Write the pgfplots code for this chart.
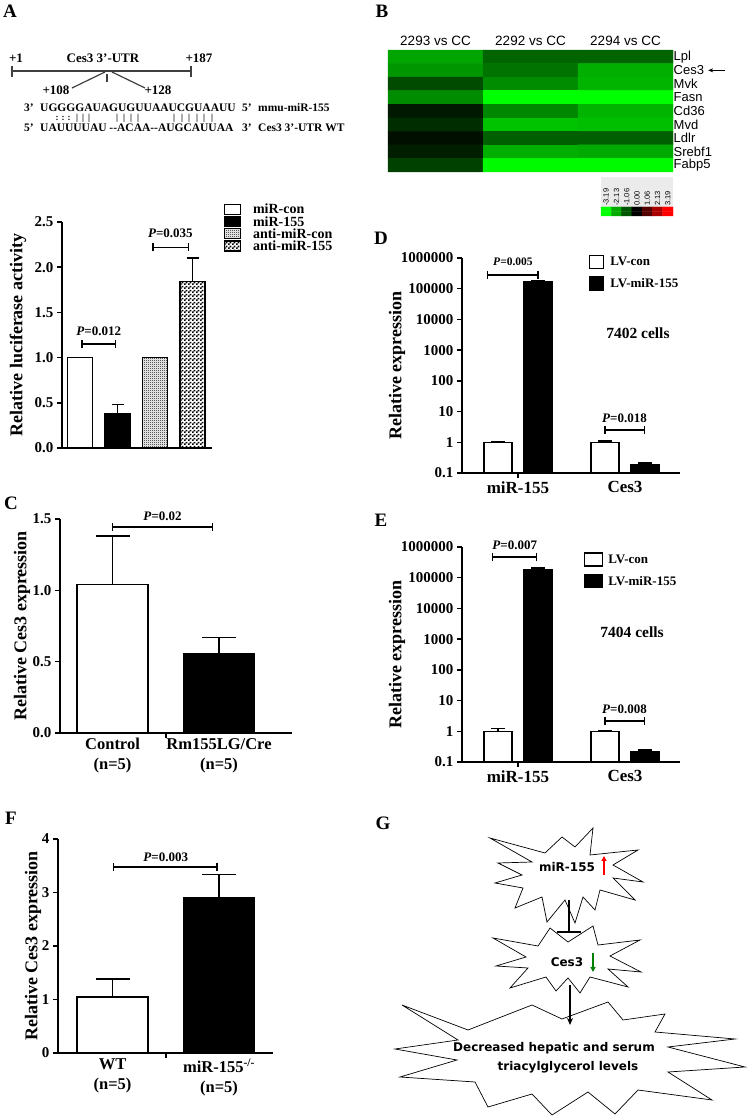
\documentclass[border=0pt]{standalone}
\usepackage{fontspec}
\setmainfont{Liberation Serif}
\newfontfamily\arialf{Liberation Sans}
\newfontfamily\verdf{DejaVu Sans}
\usepackage{pgfplots}
\pgfplotsset{compat=1.18}
\usetikzlibrary{arrows.meta,patterns}
\newcommand{\fs}[1]{\fontsize{#1}{#1}\selectfont}
\pgfdeclarepatternformonly{finecheck}{\pgfpointorigin}{\pgfpoint{2pt}{2pt}}{\pgfpoint{2pt}{2pt}}{%
  \pgfpathrectangle{\pgfpointorigin}{\pgfpoint{1pt}{1pt}}%
  \pgfpathrectangle{\pgfpoint{1pt}{1pt}}{\pgfpoint{1pt}{1pt}}%
  \pgfusepath{fill}}
\pgfdeclarepatternformonly{coarsecheck}{\pgfpointorigin}{\pgfpoint{4pt}{4pt}}{\pgfpoint{4pt}{4pt}}{%
  \pgfpathrectangle{\pgfpointorigin}{\pgfpoint{2pt}{2pt}}%
  \pgfpathrectangle{\pgfpoint{2pt}{2pt}}{\pgfpoint{2pt}{2pt}}%
  \pgfusepath{fill}}
\tikzset{
  pv/.style={font=\fs{13}\bfseries},
  br/.style={{Bar[width=8pt]}-{Bar[width=8pt]}, line width=1.5pt},
}
\pgfplotsset{
  gp/.style={scale only axis, clip=false, anchor=south west,
    axis x line*=bottom, axis y line*=left,
    axis line style={line width=1.5pt,-},
    tick align=outside, major tick length=5pt,
    every tick/.style={black, line width=1.5pt},
    tick label style={font=\fs{15}\bfseries},
    ylabel style={font=\fs{18}\bfseries, anchor=center},
  },
  eb/.style={error bars/.cd, y dir=plus, y explicit,
    error bar style={line width=1.5pt},
    error mark options={rotate=90, mark size=#1, line width=1.5pt}},
}
\begin{document}
\begin{tikzpicture}
\begin{scope}[x=1pt,y=1pt]
\path[use as bounding box] (0,0) rectangle (750,1117);
% panel letters
\begin{scope}[every node/.style={font=\fs{19}\bfseries}]
\node at (10,1106) {A};
\node at (382,1106) {B};
\node at (11,614) {C};
\node at (381,879) {D};
\node at (381,597) {E};
\node at (11,299) {F};
\node at (383,294) {G};
\end{scope}
% ---------- A schematic ----------
\draw[line width=1.6pt, black!75] (12,1046) -- (191,1046);
\draw[line width=1.6pt, black!75] (12,1040) -- (12,1051);
\draw[line width=1.6pt, black!75] (191,1040) -- (191,1051);
\draw[line width=1.2pt, black!75] (107,1043) -- (107,1035);
\draw[line width=1.2pt, black!75] (105,1045) -- (72,1029);
\draw[line width=1.2pt, black!75] (112,1045) -- (145,1029);
\begin{scope}[every node/.style={font=\fs{13}\bfseries, inner sep=0pt}]
\node at (16,1059) {+1};
\node at (103,1059) {Ces3 3'-UTR};
\node at (199,1059) {+187};
\node at (56,1027) {+108};
\node at (158,1027) {+128};
\end{scope}
\begin{scope}[every node/.style={font=\fs{11.5}\bfseries, inner sep=0pt, anchor=west}]
\node at (24,1009) {3'};
\node at (40,1009) {UGGGGAUAGUGUUAAUCGUAAUU};
\node at (242,1009) {5'};
\node at (258,1009) {mmu-miR-155};
\node at (24,989) {5'};
\node at (40,989) {UAUUUUAU -{}-ACAA-{}-AUGCAUUAA};
\node at (242,989) {3'};
\node at (258,989) {Ces3 3'-UTR WT};
\end{scope}
\foreach \xx in {57,63,69} \node[font=\fs{9}\bfseries, inner sep=0pt] at (\xx,999) {:};
\foreach \xx in {77,83,89,117,124,131,138,174,182,189,197,204,212} \node[font=\fs{9}\bfseries, inner sep=0pt] at (\xx,999) {|};
\fill[black!8] (601,910) rectangle (673,940);
% ---------- G diagram ----------
\begin{scope}[shift={(568,240)}, yscale=-1]
\draw[line width=0.7pt, fill=white] (-78,-39) -- (-23,-24) -- (-6,-40) -- (7,-30) -- (25,-49) -- (22,-22) -- (70,-27) -- (45,-12) -- (75,5) -- (45,1) -- (67,23) -- (32,13) -- (27,33) -- (15,20) -- (7,46) -- (-3,23) -- (-21,45) -- (-26,20) -- (-53,31) -- (-45,11) -- (-73,6) -- (-46,-2) -- (-70,-14) -- (-36,-15) -- cycle;
\end{scope}
\begin{scope}[shift={(568,157)}, yscale=-1]
\draw[line width=0.7pt, fill=white] (-75,-22) -- (-30,-14) -- (-18,-32) -- (0,-18) -- (25,-34) -- (30,-15) -- (72,-20) -- (42,-4) -- (73,12) -- (40,9) -- (60,27) -- (22,17) -- (12,33) -- (0,18) -- (-12,31) -- (-22,17) -- (-58,28) -- (-40,8) -- (-72,6) -- (-42,-3) -- cycle;
\end{scope}
\begin{scope}[shift={(570,60)}, yscale=-1]
\draw[line width=0.7pt, fill=white] (-168,-52) -- (-102,-27) -- (-38,-52) -- (-8,-38) -- (38,-55) -- (53,-37) -- (95,-43) -- (85,-25) -- (165,-18) -- (98,-10) -- (175,10) -- (98,15) -- (142,43) -- (68,33) -- (45,57) -- (18,35) -- (-18,58) -- (-38,37) -- (-82,50) -- (-95,25) -- (-170,20) -- (-113,3) -- (-175,-8) -- (-112,-17) -- cycle;
\end{scope}
\begin{scope}[every node/.style={font=\verdf\bfseries\fs{12}, inner sep=0pt}]
\node at (567,250) {miR-155};
\node at (567,155) {Ces3};
\node at (554,69) {Decreased hepatic and serum};
\node at (568,50) {triacylglycerol levels};
\end{scope}
\draw[-{Triangle[length=5pt,width=5pt]}, red, line width=1.8pt] (604,242) -- (604,261);
\draw[-{Triangle[length=5pt,width=5pt]}, green!50!black, line width=1.8pt] (593,164) -- (593,145);
\draw[line width=1.5pt] (569,217) -- (569,185);
\draw[line width=1.8pt] (557,185) -- (581,185);
\draw[-{Stealth[length=7pt,width=6pt]}, line width=1.5pt] (570,132) -- (570,92);
\end{scope}
% ---------- A bar chart ----------
\begin{axis}[gp, at={(62pt,669pt)}, width=150pt, height=226pt,
  xmin=0.52, xmax=4.52, ymin=0, ymax=2.5, xtick=\empty,
  ytick={0,0.5,1,1.5,2,2.5}, yticklabels={0.0,0.5,1.0,1.5,2.0,2.5},
  ylabel={Relative luciferase activity},
  ylabel style={at={(axis description cs:-0.293,0.5)}},
  ybar, bar width=25pt, bar shift=0pt,
  legend cell align=left,
  legend style={at={(axis description cs:1.06,1.095)}, anchor=north west, draw=none, fill=none,
    font=\fs{14}\bfseries, row sep=-2pt, nodes={inner sep=1.5pt}},
  legend image code/.code={\draw[#1, line width=1.2pt] (0pt,-4.5pt) rectangle (16pt,5.5pt); \path (26pt,0pt);},
]
\addplot[draw=black, fill=white, line width=1.5pt, eb=6pt] coordinates {(1,1.0) +- (0,0)};
\addplot[draw=black, fill=black, line width=1.5pt, eb=6pt] coordinates {(2,0.38) +- (0,0.10)};
\addplot[draw=black, pattern=finecheck, pattern color=black, line width=1.5pt, eb=6pt] coordinates {(3,1.0) +- (0,0)};
\addplot[draw=black, pattern=coarsecheck, pattern color=black, line width=1.5pt, eb=6pt] coordinates {(4,1.84) +- (0,0.26)};
\legend{miR-con, miR-155, anti-miR-con, anti-miR-155}
\draw[br] (1.03,1.15) -- (1.96,1.15);
\node[pv] at (1.5,1.29) {\textit{P}=0.012};
\draw[br] (2.92,2.22) -- (3.91,2.22);
\node[pv] at (3.41,2.38) {\textit{P}=0.035};
\end{axis}
% ---------- C ----------
\begin{axis}[gp, at={(60pt,384pt)}, width=232pt, height=214pt,
  xmin=0.507, xmax=2.685, ymin=0, ymax=1.5,
  ytick={0,0.5,1,1.5}, yticklabels={0.0,0.5,1.0,1.5},
  xtick={1.5}, xticklabels={},
  extra x ticks={1,2}, extra x tick labels={Control\\(n=5), Rm155LG/Cre\\(n=5)},
  extra x tick style={major tick length=0pt, xticklabel style={align=center, font=\fontsize{16.5}{20}\selectfont\bfseries, yshift=-2pt}},
  ylabel={Relative Ces3 expression},
  ylabel style={at={(axis description cs:-0.164,0.5)}},
  ybar, bar width=71pt, bar shift=0pt,
]
\addplot[draw=black, fill=white, line width=1.5pt, eb=17pt] coordinates {(1,1.04) +- (0,0.34)};
\addplot[draw=black, fill=black, line width=1.5pt, eb=17pt] coordinates {(2,0.555) +- (0,0.115)};
\draw[br] (0.995,1.444) -- (1.944,1.444);
\node[pv] at (1.47,1.52) {\textit{P}=0.02};
\end{axis}
% ---------- F ----------
\begin{axis}[gp, at={(58pt,64pt)}, width=215pt, height=214pt,
  xmin=0.488, xmax=2.507, ymin=0, ymax=4,
  ytick={0,1,2,3,4}, yticklabels={0,1,2,3,4},
  xtick={1.5}, xticklabels={},
  extra x ticks={1,2}, extra x tick labels={WT\\(n=5), miR-155\textsuperscript{-/-}\\(n=5)},
  extra x tick style={major tick length=0pt, xticklabel style={align=center, font=\fontsize{16.5}{20}\selectfont\bfseries, yshift=-2pt}},
  ylabel={Relative Ces3 expression},
  ylabel style={at={(axis description cs:-0.116,0.5)}},
  ybar, bar width=71pt, bar shift=0pt,
]
\addplot[draw=black, fill=white, line width=1.5pt, eb=17pt] coordinates {(1,1.05) +- (0,0.33)};
\addplot[draw=black, fill=black, line width=1.5pt, eb=17pt] coordinates {(2,2.90) +- (0,0.44)};
\draw[br] (1.0,3.48) -- (1.99,3.48);
\node[pv] at (1.5,3.66) {\textit{P}=0.003};
\end{axis}
% ---------- B heatmap ----------
\begin{axis}[scale only axis, at={(388pt,945pt)}, anchor=south west, width=285pt, height=122pt,
  clip=false, xmin=-0.5, xmax=2.5, ymin=-0.5, ymax=8.5, y dir=reverse,
  axis line style={draw=none}, major tick length=0pt,
  xtick={0,1,2}, xticklabels={2293 vs CC, 2292 vs CC, 2294 vs CC}, xticklabel pos=upper,
  xticklabel style={font=\arialf\fs{13.5}, yshift=1pt},
  ytick={0,...,8}, yticklabels={Lpl,Ces3,Mvk,Fasn,Cd36,Mvd,Ldlr,Srebf1,Fabp5}, yticklabel pos=right,
  yticklabel style={font=\arialf\fs{13}, anchor=west, inner sep=0.5pt},
  colormap={gb}{rgb255=(0,255,0) rgb255=(0,0,0) rgb255=(255,0,0)},
  point meta min=-3.19, point meta max=3.19,
]
\addplot[matrix plot*, mesh/cols=3, point meta=explicit] table[meta=v] {
x y v
0 0 -2.06
1 0 -1.25
2 0 -1.25
0 1 -1.88
1 1 -1.44
2 1 -2.19
0 2 -0.94
1 2 -1.75
2 2 -2.25
0 3 -1.75
1 3 -3.19
2 3 -3.19
0 4 -0.31
1 4 -1.69
2 4 -2.25
0 5 -0.56
1 5 -2.44
2 5 -2.38
0 6 -0.19
1 6 -1.19
2 6 -1.19
0 7 -0.38
1 7 -2.19
2 7 -2.13
0 8 -0.81
1 8 -3.13
2 8 -3.13
};
\draw[-{Stealth[length=5pt,width=4pt]}, line width=0.9pt] (3.05,1) -- (2.87,1);
\end{axis}
\begin{axis}[scale only axis, at={(601pt,901pt)}, anchor=south west, width=72pt, height=9pt,
  clip=false, xmin=-0.5, xmax=6.5, ymin=-0.5, ymax=1.5,
  axis line style={draw=none}, major tick length=0pt, ytick=\empty,
  xtick={0,...,6}, xticklabels={-3.19,-2.13,-1.06,0.00,1.06,2.13,3.19}, xticklabel pos=upper,
  xticklabel style={font=\arialf\fs{7.5}, rotate=90, anchor=west, inner sep=1pt},
  colormap={gb}{rgb255=(0,255,0) rgb255=(0,0,0) rgb255=(255,0,0)},
  point meta min=-3.19, point meta max=3.19,
]
\addplot[matrix plot*, mesh/cols=7, point meta=explicit] table[meta=v] {
x y v
0 0 -3.19
1 0 -2.13
2 0 -1.06
3 0 0
4 0 1.06
5 0 2.13
6 0 3.19
0 1 -3.19
1 1 -2.13
2 1 -1.06
3 1 0
4 1 1.06
5 1 2.13
6 1 3.19
};
\end{axis}
% ---------- D ----------
\begin{axis}[gp, at={(462pt,644pt)}, width=218pt, height=215pt,
  ymode=log, log origin=infty, ymin=0.1, ymax=1000000,
  xmin=-0.523, xmax=1.514,
  ytick={0.1,1,10,100,1000,10000,100000,1000000},
  yticklabels={0.1,1,10,100,1000,10000,100000,1000000},
  yminorticks=false,
  xtick={0}, xticklabels={miR-155},
  xticklabel style={font=\fs{17}\bfseries},
  extra x ticks={1}, extra x tick labels={Ces3},
  extra x tick style={major tick length=0pt, xticklabel style={font=\fs{17}\bfseries, yshift=-5pt}},
  ylabel={Relative expression},
  ylabel style={at={(axis description cs:-0.298,0.5)}},
  ybar, bar width=28pt,
  legend cell align=left,
  legend style={at={(axis description cs:0.568,1.025)}, anchor=north west, draw=none, fill=none,
    font=\fs{13}\bfseries, row sep=7pt, nodes={inner sep=2pt}},
  legend image code/.code={\draw[#1, line width=1.2pt] (0pt,-6pt) rectangle (14pt,7pt); \path (18pt,0pt);},
]
\addplot[draw=black, fill=white, line width=1.5pt, bar shift=-20pt, eb=7pt] coordinates {(0,1.0) +- (0,0.06) (1,1.0) +- (0,0.1)};
\addplot[draw=black, fill=black, line width=1.5pt, bar shift=20pt, eb=7pt] coordinates {(0,170000) +- (0,15000) (1,0.18) +- (0,0.03)};
\legend{LV-con, LV-miR-155}
\draw[br] (-0.29,280000) -- (0.196,280000);
\node[font=\fs{11.5}\bfseries] at (-0.047,740000) {\textit{P}=0.005};
\draw[br] (0.804,2.5) -- (1.187,2.5);
\node[pv] at (0.995,6.2) {\textit{P}=0.018};
\node[font=\fs{15.5}\bfseries] at (axis description cs:0.807,0.651) {7402 cells};
\end{axis}
% ---------- E ----------
\begin{axis}[gp, at={(462pt,355pt)}, width=218pt, height=215pt,
  ymode=log, log origin=infty, ymin=0.1, ymax=1000000,
  xmin=-0.523, xmax=1.514,
  ytick={0.1,1,10,100,1000,10000,100000,1000000},
  yticklabels={0.1,1,10,100,1000,10000,100000,1000000},
  yminorticks=false,
  xtick={0}, xticklabels={miR-155},
  xticklabel style={font=\fs{17}\bfseries},
  extra x ticks={1}, extra x tick labels={Ces3},
  extra x tick style={major tick length=0pt, xticklabel style={font=\fs{17}\bfseries, yshift=-5pt}},
  ylabel={Relative expression},
  ylabel style={at={(axis description cs:-0.298,0.5)}},
  ybar, bar width=28pt,
  legend cell align=left,
  legend style={at={(axis description cs:0.545,0.985)}, anchor=north west, draw=none, fill=none,
    font=\fs{13}\bfseries, row sep=7pt, nodes={inner sep=2pt}},
  legend image code/.code={\draw[#1, line width=1.2pt] (0pt,-6pt) rectangle (18pt,7pt); \path (21pt,0pt);},
]
\addplot[draw=black, fill=white, line width=1.5pt, bar shift=-20pt, eb=7pt] coordinates {(0,1.0) +- (0,0.25) (1,1.0) +- (0,0.07)};
\addplot[draw=black, fill=black, line width=1.5pt, bar shift=20pt, eb=7pt] coordinates {(0,185000) +- (0,20000) (1,0.22) +- (0,0.03)};
\legend{LV-con, LV-miR-155}
\draw[br] (-0.243,470000) -- (0.178,470000);
\node[pv] at (-0.03,1160000) {\textit{P}=0.007};
\draw[br] (0.804,2.16) -- (1.187,2.16);
\node[pv] at (0.995,5.3) {\textit{P}=0.008};
\node[font=\fs{15.5}\bfseries] at (axis description cs:0.78,0.605) {7404 cells};
\end{axis}
\end{tikzpicture}
\end{document}
